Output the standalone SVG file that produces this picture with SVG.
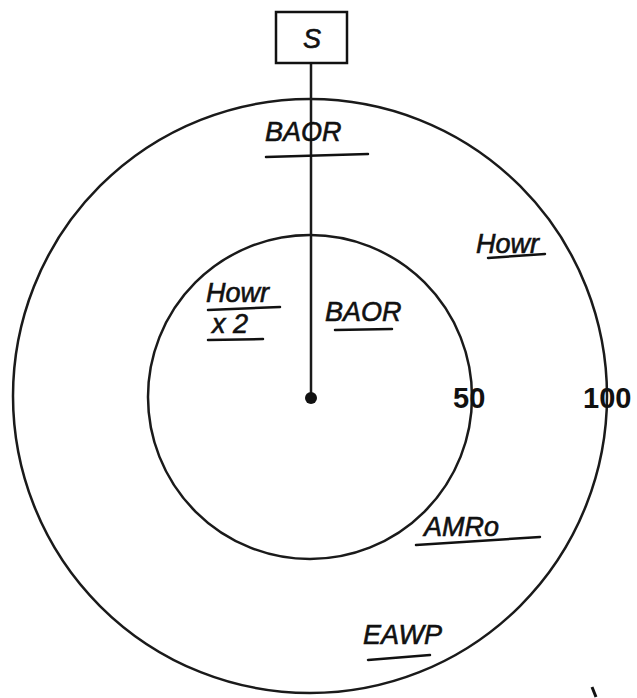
<svg xmlns="http://www.w3.org/2000/svg" width="637" height="698" viewBox="0 0 637 698">
<style>
.ring{fill:none;stroke:#1a1a1a;stroke-width:2.5}
.hand{font-family:"Liberation Sans",Arial,sans-serif;font-size:27px;fill:#111;font-style:italic;stroke:#111;stroke-width:0.6}
.num{font-family:"Liberation Sans",Arial,sans-serif;font-size:29px;font-weight:bold;fill:#111}
.ul{stroke:#111;stroke-width:2.5;fill:none;stroke-linecap:round}
</style>
<rect width="637" height="698" fill="#fff"/>
<g id="outer-ring"><circle class="ring" cx="310" cy="396" r="297"/></g>
<g id="inner-ring"><circle class="ring" cx="310" cy="397" r="162"/></g>
<g id="connectors">
<line x1="311" y1="63" x2="311" y2="398" stroke="#1a1a1a" stroke-width="2.5"/>
<circle cx="311" cy="398" r="6" fill="#111"/>
</g>
<g id="node-S">
<rect x="276" y="12" width="71" height="51" fill="#fff" stroke="#111" stroke-width="2.5"/>
<text x="312" y="48" text-anchor="middle" class="hand" font-size="32">S</text>
</g>
<g id="label-baor-top">
<text x="265" y="141" class="hand" font-size="31">BAOR</text>
<line class="ul" x1="266" y1="157" x2="368" y2="154"/>
</g>
<g id="label-howr-right">
<text x="476" y="253" class="hand">Howr</text>
<line class="ul" x1="488" y1="258" x2="545" y2="254"/>
</g>
<g id="label-howr-x2">
<text x="206" y="302" class="hand">Howr</text>
<line class="ul" x1="208" y1="310" x2="280" y2="307"/>
<text x="212" y="333" class="hand" font-size="24">x 2</text>
<line class="ul" x1="208" y1="340" x2="263" y2="339"/>
</g>
<g id="label-baor-center">
<text x="325" y="321" class="hand">BAOR</text>
<line class="ul" x1="335" y1="330" x2="392" y2="329"/>
</g>
<g id="label-50"><text x="453" y="408" class="num">50</text></g>
<g id="label-100"><text x="583" y="408" class="num">100</text></g>
<g id="label-amro">
<text x="424" y="536" class="hand">AMRo</text>
<line class="ul" x1="416" y1="545" x2="540" y2="537"/>
</g>
<g id="label-eawp">
<text x="363" y="644" class="hand" font-size="29">EAWP</text>
<line class="ul" x1="368" y1="660" x2="430" y2="655"/>
</g>
<path d="M592 687 L596 697" stroke="#111" stroke-width="3"/>
</svg>
